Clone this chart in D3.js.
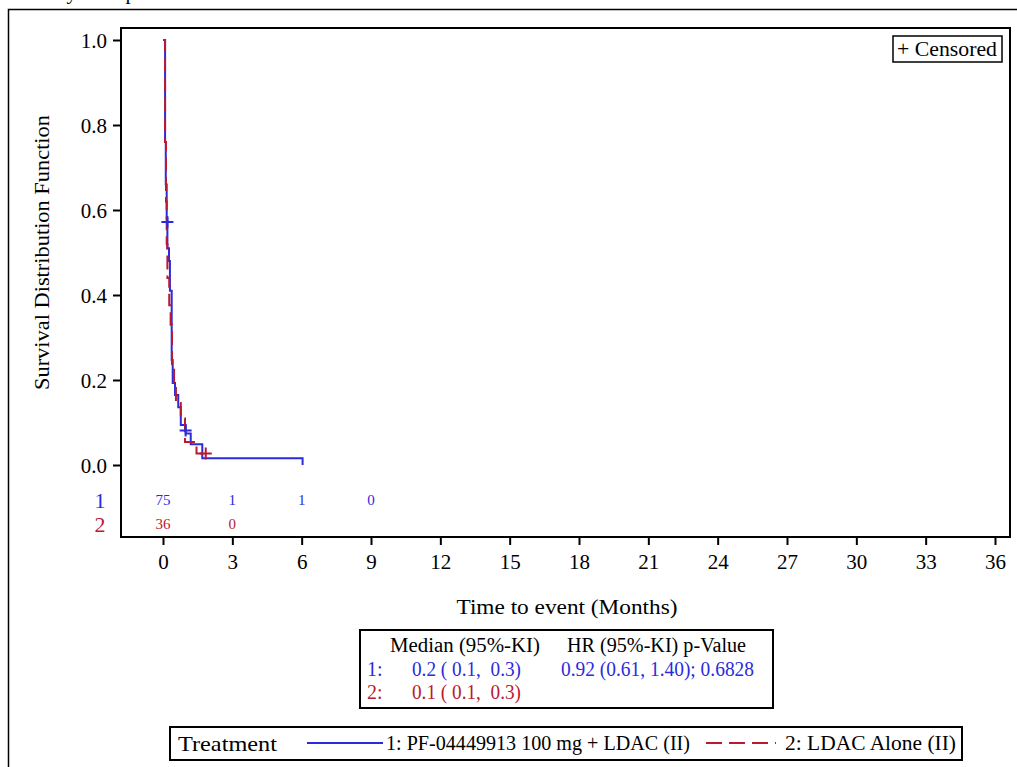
<!DOCTYPE html>
<html>
<head>
<meta charset="utf-8">
<script src="https://cdn.jsdelivr.net/npm/d3@7"></script>
<style>
  body { margin: 0; background: #fff; }
  svg { display: block; font-family: "Liberation Serif", "Times New Roman", serif; }
</style>
</head>
<body>
<div id="km"></div>
<script>
// step curves (time in months, survival)
var blueTime = [0, 0.09, 0.12, 0.16, 0.19, 0.26, 0.30, 0.376, 0.42, 0.52, 0.66, 0.77, 0.98, 1.20, 1.70, 6.04];
var blueSurv = [1, 0.76, 0.66, 0.58, 0.51, 0.48, 0.41, 0.247, 0.193, 0.165, 0.136, 0.094, 0.074, 0.049, 0.016, 0];
var blueCensor = [[0.19, 0.572], [0.98, 0.081]];

var redTime = [0, 0.09, 0.13, 0.16, 0.19, 0.27, 0.33, 0.39, 0.48, 0.56, 0.77, 0.95, 1.45, 1.85];
var redSurv = [1, 0.76, 0.62, 0.52, 0.44, 0.376, 0.33, 0.224, 0.193, 0.146, 0.11, 0.054, 0.027, 0.027];
var redCensor = [[1.85, 0.027]];

// number at risk
var riskTimes = [0, 3, 6, 9];
var riskBlue = [75, 1, 1, 0];
var riskRed = [36, 0];

var xTicks = d3.range(0, 37, 3);
var yTicks = [0, 0.2, 0.4, 0.6, 0.8, 1.0];

var width = 1017, height = 767;
var blue = "#2b2bdc";
var red = "#b81a30";
var font = "Liberation Serif";

var svg = d3.select("#km").append("svg")
  .attr("width", width)
  .attr("height", height);

// title (cut off at the top, only descenders show)
svg.append("text")
  .attr("x", 28).attr("y", -1)
  .style("font-size", "21px")
  .text("Study Group");

// outer border
svg.append("rect")
  .attr("x", 8.5).attr("y", 9.5)
  .attr("width", 1030).attr("height", 800)
  .style("fill", "none").style("stroke", "#000").style("stroke-width", 1.5);

var x = d3.scaleLinear().domain([0, 36]).range([163, 995]);
var y = d3.scaleLinear().domain([0, 1]).range([465, 40]);

var frameL = 121, frameR = 1010, frameT = 28, frameB = 537;

// plot frame
svg.append("rect")
  .attr("x", frameL).attr("y", frameT)
  .attr("width", frameR - frameL).attr("height", frameB - frameT)
  .style("fill", "none").style("stroke", "#000").style("stroke-width", 2);

// y axis
var yAxis = d3.axisLeft(y).tickValues(yTicks).tickFormat(d3.format(".1f")).tickSize(8).tickPadding(6);
var gy = svg.append("g").attr("transform", "translate(" + frameL + ",0)").call(yAxis);
gy.select(".domain").remove();
gy.selectAll("line").style("stroke-width", 2);
gy.selectAll("text").style("font-family", font).style("font-size", "21px").attr("dy", "0.34em");

// x axis
var xAxis = d3.axisBottom(x).tickValues(xTicks).tickSize(8).tickPadding(9);
var gx = svg.append("g").attr("transform", "translate(0," + frameB + ")").call(xAxis);
gx.select(".domain").remove();
gx.selectAll("line").style("stroke-width", 2);
gx.selectAll("text").style("font-family", font).style("font-size", "21px");

// axis titles
svg.append("text")
  .attr("x", 567).attr("y", 614)
  .attr("text-anchor", "middle")
  .style("font-size", "22px")
  .attr("textLength", 221).attr("lengthAdjust", "spacingAndGlyphs")
  .text("Time to event (Months)");

svg.append("text")
  .attr("transform", "translate(49," + y(0.5) + ") rotate(-90)")
  .attr("text-anchor", "middle")
  .style("font-size", "22px")
  .attr("textLength", 275).attr("lengthAdjust", "spacingAndGlyphs")
  .text("Survival Distribution Function");

// curves
var line = d3.line()
  .x(function(d) { return x(d[0]); })
  .y(function(d) { return y(d[1]); })
  .curve(d3.curveStepAfter);

var redPts = redTime.map(function(t, i) { return [t, redSurv[i]]; });
var bluePts = blueTime.map(function(t, i) { return [t, blueSurv[i]]; });

svg.append("path")
  .attr("d", line(bluePts))
  .style("fill", "none").style("stroke", blue).style("stroke-width", 2);

svg.append("path")
  .attr("d", line(redPts))
  .style("fill", "none").style("stroke", red).style("stroke-width", 2)
  .style("stroke-dasharray", "14,6");

function censor(pts, col) {
  svg.selectAll(null).data(pts).enter().append("path")
    .attr("d", function(d) {
      var cx = x(d[0]), cy = y(d[1]);
      return "M" + (cx - 6) + "," + cy + "H" + (cx + 6) + "M" + cx + "," + (cy - 6) + "V" + (cy + 6);
    })
    .style("stroke", col).style("stroke-width", 2).style("fill", "none");
}
censor(blueCensor, blue);
censor(redCensor, red);

// censored key
svg.append("rect")
  .attr("x", 893).attr("y", 36).attr("width", 109).attr("height", 26)
  .style("fill", "#fff").style("stroke", "#000").style("stroke-width", 1.5);
svg.append("text")
  .attr("x", 897).attr("y", 56)
  .style("font-size", "20px")
  .attr("textLength", 100).attr("lengthAdjust", "spacingAndGlyphs")
  .text("+ Censored");

// at risk table
var rowBlue = 500, rowRed = 524;
svg.append("text").attr("x", 100).attr("y", rowBlue).attr("dy", "0.35em")
  .attr("text-anchor", "middle").style("font-size", "22px").style("fill", blue).text("1");
svg.append("text").attr("x", 100).attr("y", rowRed).attr("dy", "0.35em")
  .attr("text-anchor", "middle").style("font-size", "22px").style("fill", red).text("2");

svg.selectAll(null).data(riskBlue).enter().append("text")
  .attr("x", function(d, i) { return x(riskTimes[i]); })
  .attr("y", rowBlue).attr("dy", "0.35em")
  .attr("text-anchor", "middle").style("font-size", "15px").style("fill", blue)
  .text(function(d) { return d; });

svg.selectAll(null).data(riskRed).enter().append("text")
  .attr("x", function(d, i) { return x(riskTimes[i]); })
  .attr("y", rowRed).attr("dy", "0.35em")
  .attr("text-anchor", "middle").style("font-size", "15px").style("fill", red)
  .text(function(d) { return d; });

// median / HR box
svg.append("rect")
  .attr("x", 360).attr("y", 630).attr("width", 413).attr("height", 78)
  .style("fill", "#fff").style("stroke", "#000").style("stroke-width", 2);

var stats = svg.append("g").style("font-size", "20px").attr("lengthAdjust", "spacingAndGlyphs");
stats.append("text").attr("x", 390).attr("y", 652).attr("textLength", 150).text("Median (95%-KI)");
stats.append("text").attr("x", 567).attr("y", 652).attr("textLength", 179).text("HR (95%-KI) p-Value");
stats.append("text").attr("x", 367).attr("y", 676).style("fill", blue).text("1:");
stats.append("text").attr("x", 412).attr("y", 676).style("fill", blue).attr("xml:space", "preserve")
  .attr("textLength", 109).text("0.2 ( 0.1,  0.3)");
stats.append("text").attr("x", 561).attr("y", 676).style("fill", blue)
  .attr("textLength", 193).text("0.92 (0.61, 1.40); 0.6828");
stats.append("text").attr("x", 367).attr("y", 699).style("fill", red).text("2:");
stats.append("text").attr("x", 412).attr("y", 699).style("fill", red).attr("xml:space", "preserve")
  .attr("textLength", 109).text("0.1 ( 0.1,  0.3)");
stats.selectAll("text").attr("lengthAdjust", "spacingAndGlyphs");

// legend
svg.append("rect")
  .attr("x", 170).attr("y", 727).attr("width", 792).attr("height", 33)
  .style("fill", "#fff").style("stroke", "#000").style("stroke-width", 2);

svg.append("text").attr("x", 178).attr("y", 751).style("font-size", "22px")
  .attr("textLength", 99).attr("lengthAdjust", "spacingAndGlyphs").text("Treatment");
svg.append("line").attr("x1", 307).attr("x2", 383).attr("y1", 743).attr("y2", 743)
  .style("stroke", blue).style("stroke-width", 2);
svg.append("text").attr("x", 386).attr("y", 750).style("font-size", "20px")
  .attr("textLength", 304).attr("lengthAdjust", "spacingAndGlyphs")
  .text("1: PF-04449913 100 mg + LDAC (II)");
svg.append("line").attr("x1", 706).attr("x2", 776).attr("y1", 743).attr("y2", 743)
  .style("stroke", red).style("stroke-width", 2).style("stroke-dasharray", "16,7");
svg.append("text").attr("x", 785).attr("y", 750).style("font-size", "20px")
  .attr("textLength", 171).attr("lengthAdjust", "spacingAndGlyphs")
  .text("2: LDAC Alone (II)");
</script>
</body>
</html>
